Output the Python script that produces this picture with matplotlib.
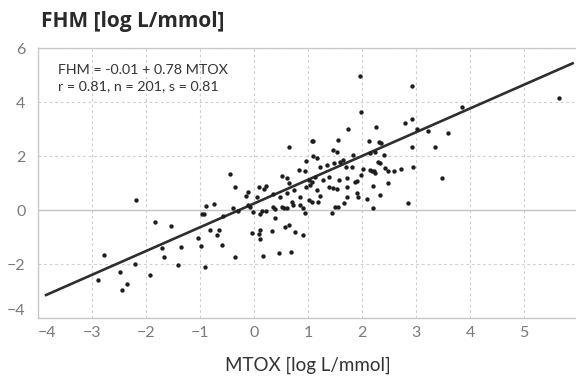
import matplotlib
matplotlib.use("Agg")
import matplotlib.pyplot as plt

# MTOX (x) and FHM (y), log L/mmol
mtox = [
    -2.19, -0.88, -0.74, -0.97, -0.93, -0.57, -0.44, -1.83, -1.53, -0.81,
    -0.65, -0.69, -1.04, -1.71, -1.35, -0.98, -0.59, -1.67, -2.78, -2.20,
    -1.41, -0.91, -2.48, -1.93, -2.88, -2.35, -2.44,
    1.99, 1.96, 1.74, 2.25, 1.07, 1.10, 1.55, 0.64, 2.13, 1.47, 1.53,
    1.10, 1.16, 0.96, 1.83, 1.65, 1.48, 1.59, 1.35, 0.83, 0.95, 0.51,
    1.22, 1.70, 1.81, 2.02, 2.15, 2.22, 2.30, 0.62, 0.64, 1.13, 1.01,
    1.07, 1.28, 1.38, 1.58, 1.72, 1.87, 1.91, 1.99, 2.21, -0.35, 0.10,
    0.19, 0.22, -0.14, 0.05, 0.36, 0.48, 0.62, 0.74, 0.85, 0.96, 1.04,
    1.16, 1.22, 1.38, 1.47, 1.53, 1.72, 1.90, 1.72, 1.93, 2.09, 2.33,
    -0.38, -0.29, -0.11, -0.07, -0.01, 0.11, 0.14, 0.22, 0.36, 0.39,
    0.51, 0.56, 0.61, 0.70, 0.72, 0.85, 0.91, 0.94, 1.01, 1.07, 1.19,
    1.44, 1.50, 1.56, 1.67, 2.21, -0.35, -0.04, 0.11, 0.10, 0.11, 0.33,
    0.39, 0.57, 0.65, 0.76, 0.91, 0.17, 0.46, 0.68,
    2.92, 5.65, 2.80, 2.92, 3.01, 3.23, 3.60, 3.85, 2.32, 2.36, 2.15,
    2.24, 2.40, 2.92, 3.35, 2.33, 2.18, 2.24, 2.43, 2.49, 2.59, 2.72,
    2.94, 2.49, 2.86, 3.48, -0.11,
]
fhm = [
    0.37, 0.15, 0.23, -0.14, -0.14, -0.22, 1.33, -0.46, -0.60, -0.75,
    -0.74, -0.93, -1.03, -1.42, -1.36, -1.32, -1.29, -1.73, -1.68, -1.99,
    -2.04, -2.11, -2.29, -2.40, -2.60, -2.75, -2.97,
    3.64, 4.97, 3.00, 3.09, 2.56, 2.54, 2.59, 2.32, 2.56, 2.22, 2.15,
    2.01, 1.91, 1.83, 2.03, 1.85, 1.75, 1.78, 1.66, 1.48, 1.43, 1.26,
    1.58, 1.58, 1.60, 1.53, 1.48, 1.43, 1.79, 1.17, 1.01, 1.21, 1.11,
    1.05, 1.11, 1.21, 1.11, 1.17, 1.05, 1.09, 1.30, 0.89, 0.84, 0.86,
    0.79, 0.90, 0.52, 0.49, 0.59, 0.49, 0.62, 0.74, 0.49, 0.84, 0.93,
    0.74, 0.52, 0.86, 0.80, 0.77, 0.86, 0.62, 0.49, 0.47, 0.40, 0.56,
    0.06, -0.03, 0.19, 0.10, -0.06, -0.15, -0.03, -0.03, 0.12, 0.03,
    0.12, 0.06, 0.06, 0.30, 0.19, 0.19, 0.06, -0.12, 0.37, 0.31, 0.31,
    -0.12, 0.10, 0.10, 0.25, 0.09, -1.73, -0.86, -0.74, -0.89, -1.09, -0.77,
    -0.31, -0.64, -0.56, -0.80, -0.93, -1.69, -1.60, -1.57,
    4.59, 4.14, 3.23, 3.37, 2.99, 2.93, 2.84, 3.83, 2.51, 2.47, 2.10,
    2.16, 2.04, 2.32, 2.34, 1.75, 1.44, 1.38, 1.54, 1.46, 1.46, 1.51,
    1.58, 1.01, 0.27, 1.17, 0.68,
]

# fitted line as drawn in the reference
fit_x = [-3.85, 5.9]
fit_intercept = 0.24
fit_slope = 0.88

x_ticks = [-4, -3, -2, -1, 0, 1, 2, 3, 4, 5]
y_ticks = [-4, -2, 0, 2, 4, 6]

plt.rcParams['font.family'] = ['Lato', 'DejaVu Sans']

fig = plt.figure(figsize=(5.76, 3.81), dpi=100)
ax = fig.add_axes([38 / 576, 63 / 381, 540 / 576, 270 / 381])

grid_col = "#cfcfcf"
ax.set_xlim(-4, 6)
ax.set_ylim(-4, 6)
ax.set_xticks(x_ticks)
ax.set_yticks(y_ticks)
ax.grid(True, color=grid_col, linestyle=(0, (2.5, 2.5)), linewidth=0.8)
ax.set_axisbelow(True)
ax.axhline(0, color="#c4c4c4", linewidth=1.0, zorder=1)

for side in ["left", "top", "bottom"]:
    ax.spines[side].set_color("#c8c8c8")
    ax.spines[side].set_linewidth(1.0)
ax.spines["right"].set_visible(False)

ax.tick_params(length=0, labelsize=11.5, labelcolor="#7a7a7a")
ax.tick_params(axis="y", pad=9)
ax.tick_params(axis="x", pad=6)
ax.get_xticklabels()[0].set_horizontalalignment("left")
ax.get_yticklabels()[0].set_verticalalignment("bottom")

fit_y = [fit_intercept + fit_slope * v for v in fit_x]
ax.plot(fit_x, fit_y, color="#2e2e2e", linewidth=1.9, zorder=3)
ax.scatter(mtox, fhm, s=10, color="#1e1e1e", linewidths=0, zorder=4)

ax.text(-3.63, 5.19, "FHM = -0.01 + 0.78 MTOX", fontsize=10.3, color="#333333",
        va="center", ha="left")
ax.text(-3.63, 4.59, "r = 0.81, n = 201, s = 0.81", fontsize=10.3, color="#333333",
        va="center", ha="left")

ax.set_xlabel("MTOX [log L/mmol]", fontsize=13.5, color="#333333", labelpad=12)
fig.text(41 / 576, 1 - 27 / 381, "FHM [log L/mmol]", fontsize=15,
         fontweight="bold", family=["Open Sans", "DejaVu Sans"],
         color="#2a2a2a", va="baseline", ha="left")

fig.savefig("out.png", dpi=100)
